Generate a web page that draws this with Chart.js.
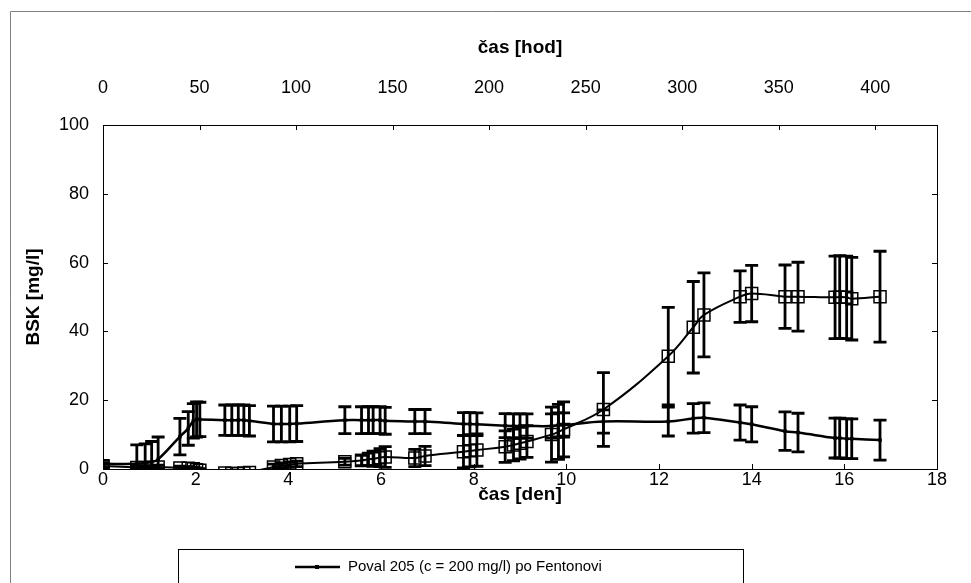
<!DOCTYPE html>
<html>
<head>
<meta charset="utf-8">
<script src="https://cdn.jsdelivr.net/npm/chart.js@4.4.1/dist/chart.umd.min.js"></script>
<style>
  html, body { margin: 0; padding: 0; background: #fff; }
  #wrap { width: 971px; height: 583px; position: relative; }
</style>
</head>
<body>
<div id="wrap"><canvas id="bsk-chart"></canvas></div>
<script>
////////// BSK vs time

// Data
const days = [0, 0.73, 0.91, 1.05, 1.19, 1.66, 1.84, 1.95, 2.02, 2.09,
  2.63, 2.78, 2.92, 3.04, 3.16, 3.68, 3.85, 4.03, 4.18, 5.22,
  5.58, 5.73, 5.83, 5.98, 6.09, 6.73, 6.95, 7.78, 7.92, 8.07,
  8.68, 8.86, 9.0, 9.15, 9.68, 9.83, 9.94, 10.8, 12.2, 12.74,
  12.97, 13.75, 14.0, 14.72, 15.0, 15.8, 15.9, 16.05, 16.16, 16.77];

// Poval 205 (c = 200 mg/l) po Fentonovi
const bskFenton = [1.5, 1.5, 1.8, 2.0, 2.8, 9.4, 11.8, 14.0, 14.4, 14.4,
  14.2, 14.2, 14.2, 14.2, 14.0, 13.1, 13.1, 13.1, 13.2, 14.2,
  14.2, 14.2, 14.2, 14.2, 14.0, 13.8, 13.8, 13.1, 13.1, 13.0,
  12.6, 12.5, 12.5, 12.5, 12.5, 12.8, 12.8, 13.8, 13.8, 14.7,
  14.9, 13.5, 13.0, 11.0, 10.6, 9.0, 9.0, 8.8, 8.8, 8.4];
const errFenton = [1.0, 5.5, 5.5, 6.0, 6.5, 5.3, 4.9, 5.0, 5.1, 5.0,
  4.4, 4.4, 4.4, 4.4, 4.4, 5.2, 5.2, 5.2, 5.2, 3.9,
  3.9, 3.9, 3.9, 3.9, 3.9, 3.5, 3.5, 3.3, 3.3, 3.3,
  3.5, 3.5, 3.5, 3.5, 3.5, 3.5, 3.5, 3.4, 4.2, 4.3,
  4.3, 5.1, 5.1, 5.6, 5.6, 5.8, 5.8, 5.8, 5.8, 5.8];

// second series (open squares)
const bskPoval = [0.9, 0.4, 0.4, 0.5, 0.6, 0.3, 0.2, 0.1, -0.2, -0.4,
  -1.2, -1.3, -1.3, -1.2, -1.0, 0.6, 1.0, 1.3, 1.5, 2.1,
  2.5, 2.8, 3.0, 3.3, 3.5, 3.2, 3.8, 5.0, 5.3, 5.5,
  6.5, 7.0, 7.5, 8.0, 10.0, 10.8, 11.5, 17.3, 32.8, 41.2,
  44.8, 50.1, 51.0, 50.1, 50.1, 49.9, 50.0, 49.9, 49.5, 50.1];
const errPoval = [0.8, 0.5, 0.5, 0.5, 0.5, 0.5, 0.5, 0.5, 0.5, 0.5,
  0.5, 0.5, 0.5, 0.5, 0.5, 0.8, 0.8, 0.8, 0.8, 1.0,
  1.5, 1.8, 2.2, 2.6, 3.0, 2.5, 2.8, 4.7, 4.7, 4.7,
  4.6, 4.6, 4.6, 4.6, 8.0, 8.0, 8.0, 10.7, 14.2, 13.3,
  12.2, 7.5, 8.2, 9.2, 10.0, 12.0, 12.0, 12.0, 12.0, 13.2];

const yTicks = [0, 20, 40, 60, 80, 100];
const dayTicks = [0, 2, 4, 6, 8, 10, 12, 14, 16, 18];
const hourTicks = [0, 50, 100, 150, 200, 250, 300, 350, 400];

const legendLabels = ["Poval 205 (c = 200 mg/l) po Fentonovi", "Poval 205 (c = 200 mg/l)"];

const FONT = "'Liberation Sans', Arial, sans-serif";

// error bars drawn through the scales
const errorBars = {
  id: "errorBars",
  afterDatasetsDraw(chart) {
    const { ctx, chartArea: a, scales } = chart;
    const xs = scales.x, ys = scales.y;
    ctx.save();
    ctx.beginPath();
    ctx.rect(a.left, a.top, a.right - a.left, a.bottom - a.top);
    ctx.clip();
    ctx.strokeStyle = "#000";
    ctx.lineWidth = 2.8;
    chart.data.datasets.forEach((ds) => {
      ds.data.forEach((p, i) => {
        const e = ds.errors[i];
        const px = xs.getPixelForValue(p.x);
        const top = ys.getPixelForValue(p.y + e);
        const bot = ys.getPixelForValue(p.y - e);
        ctx.beginPath();
        ctx.moveTo(px, top);
        ctx.lineTo(px, bot);
        ctx.moveTo(px - 6.5, top);
        ctx.lineTo(px + 6.5, top);
        ctx.moveTo(px - 6.5, bot);
        ctx.lineTo(px + 6.5, bot);
        ctx.stroke();
      });
    });
    ctx.restore();
  },
};

// frame, plot border, inward tick marks, legend box
const frame = {
  id: "frame",
  beforeDraw(chart) {
    const { ctx, width, height } = chart;
    ctx.save();
    ctx.fillStyle = "#fff";
    ctx.fillRect(0, 0, width, height);
    ctx.strokeStyle = "#808080";
    ctx.lineWidth = 1;
    ctx.beginPath();
    ctx.moveTo(10.5, height + 5);
    ctx.lineTo(10.5, 11.5);
    ctx.lineTo(width + 5, 11.5);
    ctx.stroke();
    ctx.restore();
  },
  afterDraw(chart) {
    const { ctx, chartArea: a, scales } = chart;
    ctx.save();
    ctx.strokeStyle = "#000";
    ctx.lineWidth = 1;
    ctx.strokeRect(a.left + 0.5, a.top + 0.5, a.right - a.left, a.bottom - a.top);
    ctx.beginPath();
    yTicks.forEach((v) => {
      const py = Math.round(scales.y.getPixelForValue(v)) + 0.5;
      ctx.moveTo(a.left, py); ctx.lineTo(a.left + 5, py);
      ctx.moveTo(a.right, py); ctx.lineTo(a.right - 5, py);
    });
    dayTicks.forEach((v) => {
      const px = Math.round(scales.x.getPixelForValue(v)) + 0.5;
      ctx.moveTo(px, a.bottom); ctx.lineTo(px, a.bottom - 5);
    });
    hourTicks.forEach((v) => {
      const px = Math.round(scales.x2.getPixelForValue(v)) + 0.5;
      ctx.moveTo(px, a.top); ctx.lineTo(px, a.top + 5);
    });
    ctx.stroke();

    // legend
    ctx.strokeRect(178.5, 549.5, 565, 70);
    ctx.lineWidth = 2.5;
    ctx.beginPath();
    ctx.moveTo(295, 567); ctx.lineTo(340, 567);
    ctx.stroke();
    ctx.fillStyle = "#000";
    ctx.fillRect(315, 565, 4, 4);
    ctx.font = "15px " + FONT;
    ctx.textBaseline = "middle";
    ctx.fillText(legendLabels[0], 348, 567);
    ctx.lineWidth = 1.5;
    ctx.beginPath();
    ctx.moveTo(295, 597); ctx.lineTo(340, 597);
    ctx.stroke();
    ctx.strokeRect(311, 591, 12, 12);
    ctx.fillText(legendLabels[1], 348, 597);
    ctx.restore();
  },
};

const el = document.getElementById("bsk-chart").getContext("2d");

const bskChart = new Chart(el, {
  type: "line",
  data: {
    datasets: [
      {
        label: legendLabels[0],
        data: days.map((d, i) => ({ x: d, y: bskFenton[i] })),
        errors: errFenton,
        borderColor: "#000",
        borderWidth: 2.5,
        backgroundColor: "#000",
        pointStyle: "rect",
        pointRadius: 2.5,
        pointBorderWidth: 0,
        pointBackgroundColor: "#000",
        tension: 0.4,
        fill: false,
        xAxisID: "x",
        yAxisID: "y",
      },
      {
        label: legendLabels[1],
        data: days.map((d, i) => ({ x: d, y: bskPoval[i] })),
        errors: errPoval,
        borderColor: "#000",
        borderWidth: 2,
        backgroundColor: "transparent",
        pointStyle: "rect",
        pointRadius: 8.5,
        pointBorderWidth: 1.5,
        pointBorderColor: "#000",
        pointBackgroundColor: "transparent",
        tension: 0.4,
        fill: false,
        xAxisID: "x",
        yAxisID: "y",
      },
    ],
  },
  options: {
    responsive: true,
    maintainAspectRatio: false,
    animation: false,
    events: [],
    layout: { padding: { left: 22, right: 34, top: 36, bottom: 77 } },
    plugins: {
      legend: { display: false },
      tooltip: { enabled: false },
    },
    scales: {
      x: {
        type: "linear",
        position: "bottom",
        min: 0,
        max: 18,
        afterBuildTicks: (s) => { s.ticks = dayTicks.map((v) => ({ value: v })); },
        afterFit: (s) => { s.height = 37; },
        grid: { display: false, drawTicks: false },
        border: { display: false },
        ticks: { color: "#000", font: { family: FONT, size: 18 }, padding: 0, maxRotation: 0 },
        title: { display: true, text: "čas [den]", color: "#000", padding: 0,
          font: { family: FONT, size: 19, weight: "bold" } },
      },
      x2: {
        type: "linear",
        position: "top",
        min: 0,
        max: 432,
        afterBuildTicks: (s) => { s.ticks = hourTicks.map((v) => ({ value: v })); },
        afterFit: (s) => { s.height = 89; },
        grid: { display: false, drawTicks: false },
        border: { display: false },
        ticks: { color: "#000", font: { family: FONT, size: 18 }, padding: 26, maxRotation: 0 },
        title: { display: true, text: "čas [hod]", color: "#000", padding: 0,
          font: { family: FONT, size: 19, weight: "bold" } },
      },
      y: {
        type: "linear",
        position: "left",
        min: 0,
        max: 100,
        afterBuildTicks: (s) => { s.ticks = yTicks.map((v) => ({ value: v })); },
        afterFit: (s) => { s.width = 81; },
        grid: { display: false, drawTicks: false },
        border: { display: false },
        ticks: { color: "#000", font: { family: FONT, size: 18 }, padding: 14 },
        title: { display: true, text: "BSK [mg/l]", color: "#000", padding: 0,
          font: { family: FONT, size: 19, weight: "bold" } },
      },
    },
  },
  plugins: [frame, errorBars],
});
</script>
</body>
</html>
